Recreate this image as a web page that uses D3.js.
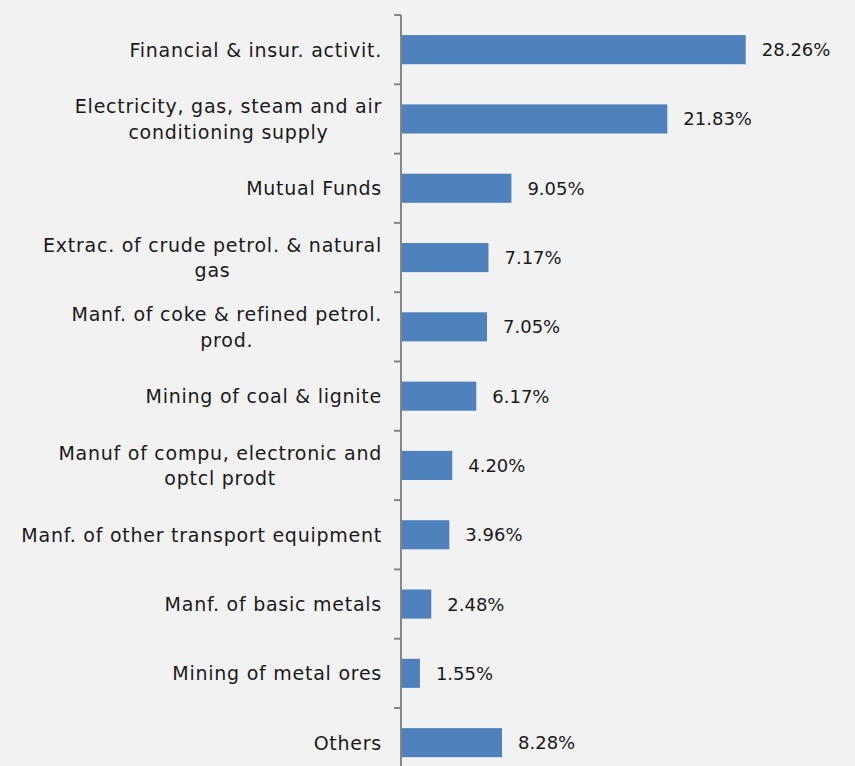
<!DOCTYPE html>
<html>
<head>
<meta charset="utf-8">
<script src="https://cdn.jsdelivr.net/npm/d3@7"></script>
<style>
  html, body { margin: 0; padding: 0; background: #f2f2f2; }
  svg { display: block; }
  text { font-family: "DejaVu Sans", sans-serif; fill: #1a1a1a; }
</style>
</head>
<body>
<svg id="chart" width="855" height="766"></svg>
<script>
// Sector labels (line breaks mark wrapped labels)
const categories = [
  "Financial & insur. activit.",
  "Electricity, gas, steam and air\nconditioning supply",
  "Mutual Funds",
  "Extrac. of crude petrol. & natural\ngas",
  "Manf. of coke & refined petrol.\nprod.",
  "Mining of coal & lignite",
  "Manuf of compu, electronic and\noptcl prodt",
  "Manf. of other transport equipment",
  "Manf. of basic metals",
  "Mining of metal ores",
  "Others"
];
// Share of each sector, in percent
const shares = [28.26, 21.83, 9.05, 7.17, 7.05, 6.17, 4.20, 3.96, 2.48, 1.55, 8.28];
const valueLabels = ["28.26%", "21.83%", "9.05%", "7.17%", "7.05%", "6.17%", "4.20%", "3.96%", "2.48%", "1.55%", "8.28%"];

const svg = d3.select("#chart");
const axisX = 401;
const plotTop = 15;
const band = 69.3;

const x = d3.scaleLinear().domain([0, 30]).range([axisX, axisX + 30 * 12.2]);
const y = d3.scaleBand()
  .domain(categories)
  .range([plotTop, plotTop + band * categories.length])
  .paddingInner(0.58)
  .paddingOuter(0.29);

// Bars
svg.append("g").selectAll("rect")
  .data(categories)
  .join("rect")
  .attr("x", x(0))
  .attr("y", d => y(d))
  .attr("width", (d, i) => x(shares[i]) - x(0))
  .attr("height", y.bandwidth())
  .attr("fill", "#4f81bd");

// Category axis with ticks between categories
const axisG = svg.append("g");
axisG.append("line")
  .attr("x1", axisX).attr("x2", axisX)
  .attr("y1", plotTop).attr("y2", 766)
  .attr("stroke", "#868686").attr("stroke-width", 2);
d3.range(categories.length + 1).forEach(k => {
  const ty = plotTop + k * band;
  axisG.append("line")
    .attr("x1", axisX - 7).attr("x2", axisX)
    .attr("y1", ty).attr("y2", ty)
    .attr("stroke", "#868686").attr("stroke-width", 2);
});

// Category labels, centred lines in a right-aligned block
const lineH = 25.5;
const labelG = svg.append("g")
  .attr("font-size", 19)
  .attr("letter-spacing", "0.75px");
categories.forEach(c => {
  const lines = c.split("\n");
  const cy = y(c) + y.bandwidth() / 2;
  const t = labelG.append("text")
    .attr("dominant-baseline", "central");
  lines.forEach((ln, j) => {
    t.append("tspan").text(ln)
      .attr("y", cy + (j - (lines.length - 1) / 2) * lineH);
  });
  // measure widest line, then centre each line within the block
  const widths = [];
  t.selectAll("tspan").each(function() { widths.push(this.getComputedTextLength()); });
  const w = d3.max(widths);
  const right = axisX - 19;
  t.selectAll("tspan")
    .attr("text-anchor", "middle")
    .attr("x", right - w / 2);
});

// Value labels
svg.append("g").attr("font-size", 18).selectAll("text")
  .data(categories)
  .join("text")
  .attr("x", (d, i) => x(shares[i]) + 16)
  .attr("y", d => y(d) + y.bandwidth() / 2)
  .attr("dominant-baseline", "central")
  .text((d, i) => valueLabels[i]);
</script>
</body>
</html>
